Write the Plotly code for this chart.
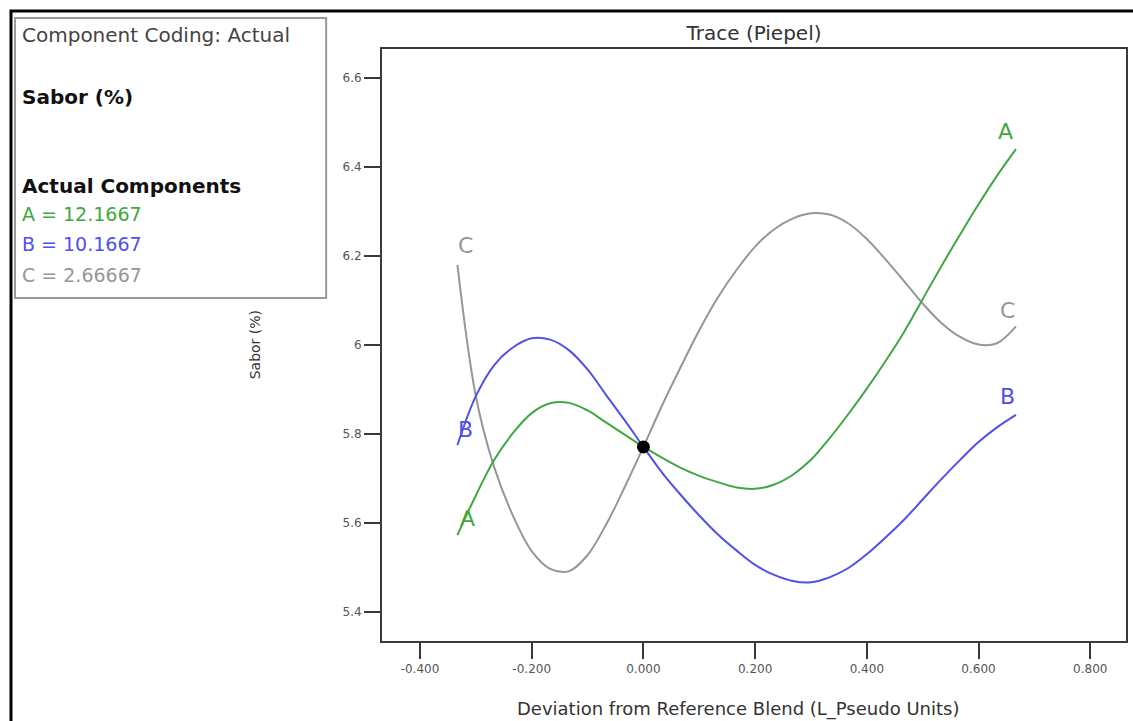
import plotly.graph_objects as go

# Deviation from reference blend (L_Pseudo units), step 1/30
deviation = [-0.333, -0.3, -0.267, -0.233, -0.2, -0.167, -0.133, -0.1, -0.067, -0.033,
             0.0, 0.033, 0.067, 0.1, 0.133, 0.167, 0.2, 0.233, 0.267, 0.3,
             0.333, 0.367, 0.4, 0.433, 0.467, 0.5, 0.533, 0.567, 0.6, 0.633, 0.667]
sabor_A = [5.573, 5.662, 5.742, 5.803, 5.847, 5.869, 5.870, 5.853, 5.826, 5.798,
           5.771, 5.747, 5.724, 5.706, 5.692, 5.680, 5.677, 5.686, 5.708, 5.742,
           5.790, 5.845, 5.902, 5.963, 6.030, 6.103, 6.176, 6.248, 6.316, 6.380, 6.440]
sabor_B = [5.775, 5.885, 5.955, 5.995, 6.015, 6.012, 5.988, 5.945, 5.888, 5.830,
           5.771, 5.714, 5.663, 5.617, 5.575, 5.538, 5.506, 5.484, 5.470, 5.467,
           5.478, 5.499, 5.530, 5.567, 5.608, 5.653, 5.698, 5.742, 5.782, 5.815, 5.843]
sabor_C = [6.180, 5.885, 5.725, 5.615, 5.537, 5.497, 5.492, 5.528, 5.596, 5.682,
           5.771, 5.863, 5.951, 6.033, 6.106, 6.169, 6.221, 6.259, 6.284, 6.296,
           6.293, 6.273, 6.238, 6.193, 6.143, 6.093, 6.050, 6.018, 6.001, 6.004, 6.042]
ref_point = (0.0, 5.771)

x_ticks = [-0.4, -0.2, 0.0, 0.2, 0.4, 0.6, 0.8]
x_ticktext = ["-0.400", "-0.200", "0.000", "0.200", "0.400", "0.600", "0.800"]
y_ticks = [5.4, 5.6, 5.8, 6.0, 6.2, 6.4, 6.6]
y_ticktext = ["5.4", "5.6", "5.8", "6", "6.2", "6.4", "6.6"]

GREEN = "rgb(64,168,64)"
BLUE = "rgb(80,80,235)"
GRAY = "rgb(150,150,150)"
FONT = "DejaVu Sans"

fig = go.Figure()
for ys, col in [(sabor_C, GRAY), (sabor_A, GREEN), (sabor_B, BLUE)]:
    fig.add_trace(go.Scatter(x=deviation, y=ys, mode="lines",
                             line=dict(color=col, width=2, shape="spline", smoothing=1.0),
                             hoverinfo="skip", showlegend=False))
fig.add_trace(go.Scatter(x=[ref_point[0]], y=[ref_point[1]], mode="markers",
                         marker=dict(color="black", size=13), showlegend=False))

# Component labels at the curve ends
labels = [("A", sabor_A, GREEN, (10, 17), (-10, 18)),
          ("B", sabor_B, BLUE, (8, 16), (-8, 18)),
          ("C", sabor_C, GRAY, (8, 19), (-8, 16))]
for name, ys, col, s_shift, e_shift in labels:
    fig.add_annotation(x=deviation[0], y=ys[0], text=name, showarrow=False,
                       xshift=s_shift[0], yshift=s_shift[1],
                       font=dict(family=FONT, size=22, color=col))
    fig.add_annotation(x=deviation[-1], y=ys[-1], text=name, showarrow=False,
                       xshift=e_shift[0], yshift=e_shift[1],
                       font=dict(family=FONT, size=22, color=col))

axis_common = dict(showline=True, linecolor="#3a3a3a", linewidth=2, mirror=True,
                   ticks="outside", tickcolor="#3a3a3a", tickwidth=2,
                   showgrid=False, zeroline=False,
                   tickfont=dict(family=FONT, size=12, color="#555555"))

fig.update_layout(
    width=1133, height=721,
    margin=dict(l=382, r=5, t=49, b=80),
    paper_bgcolor="white", plot_bgcolor="white",
    font=dict(family=FONT),
    title=dict(text="Trace (Piepel)", x=0.5, xref="paper", y=1 - 33 / 721,
               yanchor="middle", font=dict(family=FONT, size=20, color="#333333")),
    xaxis=dict(range=[-0.468, 0.864], tickvals=x_ticks, ticktext=x_ticktext,
               ticklen=16, **axis_common),
    yaxis=dict(range=[5.335, 6.665], tickvals=y_ticks, ticktext=y_ticktext,
               ticklen=16, **axis_common),
    showlegend=False,
)

def px(xp):
    return (xp - 382) / 746
def py(yp):
    return (641 - yp) / 592

# Axis titles
fig.add_annotation(xref="paper", yref="paper", x=px(739), y=py(709),
                   text="Deviation from Reference Blend (L_Pseudo Units)", showarrow=False,
                   yanchor="middle", font=dict(family=FONT, size=18, color="#333333"))
fig.add_annotation(xref="paper", yref="paper", x=px(255), y=py(345),
                   text="Sabor (%)", showarrow=False, textangle=-90,
                   xanchor="center", yanchor="middle",
                   font=dict(family=FONT, size=14, color="#333333"))

# Outer frame and info box
fig.add_shape(type="rect", xref="paper", yref="paper", x0=px(10), x1=px(1140),
              y0=py(740), y1=py(11), line=dict(color="black", width=3))
fig.add_shape(type="rect", xref="paper", yref="paper", x0=px(14), x1=px(326),
              y0=py(298), y1=py(18), line=dict(color="#999999", width=2),
              fillcolor="white", layer="above")

info = [("Component Coding: Actual", 35, "#444444", False, 20),
        ("Sabor (%)", 97, "#111111", True, 20),
        ("Actual Components", 186, "#111111", True, 20),
        ("A = 12.1667", 214, GREEN, False, 19),
        ("B = 10.1667", 244, BLUE, False, 19),
        ("C = 2.66667", 275, GRAY, False, 19)]
for txt, yp, col, bold, size in info:
    fig.add_annotation(xref="paper", yref="paper", x=px(19), y=py(yp),
                       text=f"<b>{txt}</b>" if bold else txt, showarrow=False,
                       xanchor="left", yanchor="middle",
                       font=dict(family=FONT, size=size, color=col))

fig.write_html("out.html")
